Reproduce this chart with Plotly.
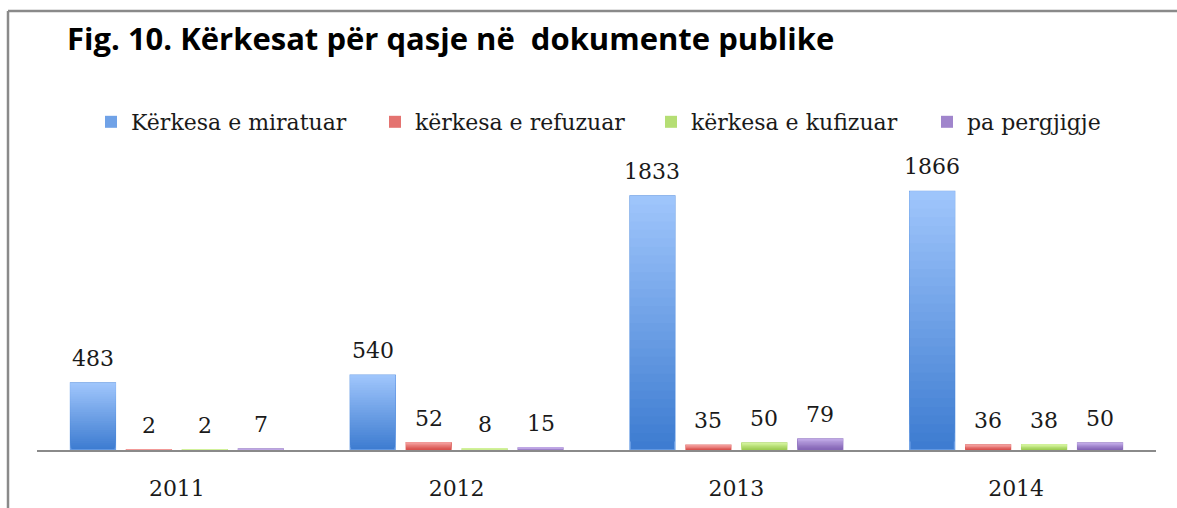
import plotly.graph_objects as go

# ---- data ----
years = ["2011", "2012", "2013", "2014"]
series_names = ["Kërkesa e miratuar", "kërkesa e refuzuar", "kërkesa e kufizuar", "pa pergjigje"]
miratuar = [483, 540, 1833, 1866]
refuzuar = [2, 52, 35, 36]
kufizuar = [2, 8, 50, 38]
pa_pergjigje = [7, 15, 79, 50]
title_text = "Fig. 10. Kërkesat për qasje në\u00a0 dokumente publike"

series_values = [miratuar, refuzuar, kufizuar, pa_pergjigje]
# gradient colours: (top, bottom)
grad = [("#a0c6fc", "#3c7bd0"),
        ("#f39a98", "#d44a46"),
        ("#d2f29a", "#97c84c"),
        ("#c0a8e6", "#7e5fb0")]
legend_square_px = [107, 391, 667, 943]

W, H = 1177, 508
ML, MR, MT, MB = 37, 21, 150, 58
plot_w = W - ML - MR
plot_h = H - MT - MB
px_per_unit = 0.13857
ymax = plot_h / px_per_unit

def hex2rgb(h):
    h = h.lstrip("#")
    return tuple(int(h[i:i + 2], 16) for i in (0, 2, 4))

def mix(c1, c2, t):
    a, b = hex2rgb(c1), hex2rgb(c2)
    return "rgb(%d,%d,%d)" % tuple(round(a[i] + (b[i] - a[i]) * t) for i in range(3))

legend_ids = ["legend", "legend2", "legend3", "legend4"]

N = 30
fig = go.Figure()
for j, (name, vals) in enumerate(zip(series_names, series_values)):
    top, bot = grad[j]
    for k in range(N):
        t = 1 - (k + 0.5) / N  # k=0 bottom segment
        line = dict(width=1.5, color=mix(top, bot, 0.5)) if k == 0 else dict(width=0)
        fig.add_trace(go.Bar(
            x=years,
            y=[v * (N - k) / N for v in vals],
            base=[v * k / N for v in vals],
            offsetgroup=str(j),
            legendgroup=str(j),
            legend=legend_ids[j],
            name=name,
            marker=dict(color=mix(top, bot, t), line=line),
            showlegend=(k == N // 2),
            hoverinfo="skip",
            cliponaxis=False,
        ))

# data labels
offsets = [-0.3, -0.1, 0.1, 0.3]
for j, vals in enumerate(series_values):
    for i, v in enumerate(vals):
        fig.add_annotation(
            x=i + offsets[j], y=v, xref="x", yref="y",
            text=str(v), showarrow=False, yanchor="bottom", yshift=10,
            font=dict(family="DejaVu Serif", size=22, color="#1a1a1a"),
        )

def px_to_paper_x(px):
    return (px - ML) / plot_w

def px_to_paper_y(py):
    return (H - MB - py) / plot_h

frame_color = "#8a8a8a"
fig.add_shape(type="line", xref="paper", yref="paper",
              x0=px_to_paper_x(8), x1=px_to_paper_x(W + 5),
              y0=px_to_paper_y(11), y1=px_to_paper_y(11),
              line=dict(color=frame_color, width=2.5))
fig.add_shape(type="line", xref="paper", yref="paper",
              x0=px_to_paper_x(8), x1=px_to_paper_x(8),
              y0=px_to_paper_y(11), y1=px_to_paper_y(H + 5),
              line=dict(color=frame_color, width=2.5))

legend_layout = {}
for j, lid in enumerate(legend_ids):
    legend_layout[lid] = dict(
        orientation="h", xref="container", yref="container",
        x=(legend_square_px[j] - 16) / W, xanchor="left",
        y=1 - 122 / H, yanchor="middle",
        font=dict(family="DejaVu Serif", size=22, color="#1a1a1a"),
        bgcolor="rgba(0,0,0,0)",
    )

fig.update_layout(
    width=W, height=H, autosize=False,
    margin=dict(l=ML, r=MR, t=MT, b=MB, autoexpand=False),
    paper_bgcolor="white", plot_bgcolor="white",
    barmode="group", bargap=0.2, bargroupgap=0.2,
    title=dict(text=title_text, xref="container", yref="container",
               x=67 / W, xanchor="left", y=1 - 39 / H, yanchor="middle",
               font=dict(family="Open Sans", size=31, color="#000000", weight="bold")),
    showlegend=True,
    xaxis=dict(type="category", showline=True, linecolor="#8a8a8a", linewidth=1.5,
               showgrid=False, ticks="outside", ticklen=18, tickcolor="rgba(0,0,0,0)",
               tickfont=dict(family="DejaVu Serif", size=22, color="#1a1a1a"),
               fixedrange=True, automargin=False, layer="below traces"),
    yaxis=dict(visible=False, range=[0, ymax], showgrid=False, fixedrange=True,
               automargin=False),
    **legend_layout,
)

fig.write_html("out.html", config={"displayModeBar": False},
               post_script="document.body.style.margin='0';document.body.style.overflow='hidden';")
